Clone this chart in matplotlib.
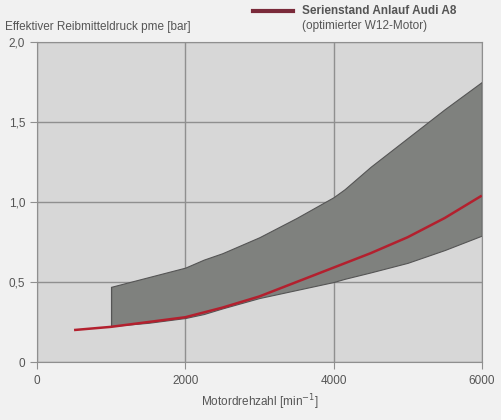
import matplotlib
matplotlib.use("Agg")
import matplotlib.pyplot as plt
import numpy as np

# red line: Serienstand Anlauf Audi A8
rpm_line = [500, 1000, 1500, 2000, 2500, 3000, 3500, 4000, 4500, 5000, 5500, 6000]
pme_line = [0.20, 0.22, 0.25, 0.28, 0.34, 0.41, 0.50, 0.59, 0.68, 0.78, 0.90, 1.04]

# grey scatter band
rpm_band = [1000, 1500, 2000, 2250, 2500, 3000, 3500, 4000, 4150, 4500, 5000, 5500, 6000]
band_hi = [0.47, 0.53, 0.59, 0.64, 0.68, 0.78, 0.90, 1.03, 1.08, 1.22, 1.40, 1.58, 1.75]
band_lo = [0.225, 0.245, 0.275, 0.30, 0.335, 0.40, 0.45, 0.50, 0.52, 0.56, 0.62, 0.70, 0.79]

xticks = [0, 2000, 4000, 6000]
yticks = [0, 0.5, 1.0, 1.5, 2.0]
ylabels = ["0", "0,5", "1,0", "1,5", "2,0"]

txt = "#555555"
plt.rcParams['font.family'] = ['Liberation Sans', 'DejaVu Sans']

fig = plt.figure(figsize=(5.02, 4.2), dpi=100)
fig.patch.set_facecolor("#f1f1f1")
ax = fig.add_axes([0.0737, 0.138, 0.886, 0.762])
ax.set_facecolor("#d7d7d7")

ax.fill_between(rpm_band, band_lo, band_hi, color="#7f817e", edgecolor="#555555", lw=0.8, zorder=2)
ax.plot([rpm_band[0], rpm_band[0]], [band_lo[0], band_hi[0]], color="#555555", lw=0.8, zorder=2)
ax.plot(rpm_line, pme_line, color="#b3202e", lw=1.8, zorder=3, solid_capstyle="butt")

ax.set_xlim(0, 6000)
ax.set_ylim(0, 2.0)
ax.set_xticks(xticks)
ax.set_xticklabels([str(v) for v in xticks])
ax.set_yticks(yticks)
ax.set_yticklabels(ylabels)
ax.grid(True, color="#8f8f8f", lw=1.0, zorder=1)
ax.set_axisbelow(True)
for s in ax.spines.values():
    s.set_color("#8f8f8f")
ax.tick_params(colors="#8f8f8f", labelcolor=txt, labelsize=8.5, length=5)
ax.tick_params(axis="x", pad=4)

ax.set_xlabel("Motordrehzahl [min$^{-1}$]", color=txt, fontsize=8.5, labelpad=4)
fig.text(0.01, 0.935, "Effektiver Reibmitteldruck pme [bar]", color=txt, fontsize=8.5, va="center")

# legend drawn by hand at top
fig.add_artist(plt.Line2D([0.503, 0.583], [0.973, 0.973], color="#7a2a3a", lw=3, transform=fig.transFigure))
fig.text(0.602, 0.973, "Serienstand Anlauf Audi A8", color=txt, fontsize=8.5, fontweight="bold", va="center")
fig.text(0.602, 0.938, "(optimierter W12-Motor)", color=txt, fontsize=8.5, va="center")

fig.savefig("out.png", dpi=100, facecolor=fig.get_facecolor())
